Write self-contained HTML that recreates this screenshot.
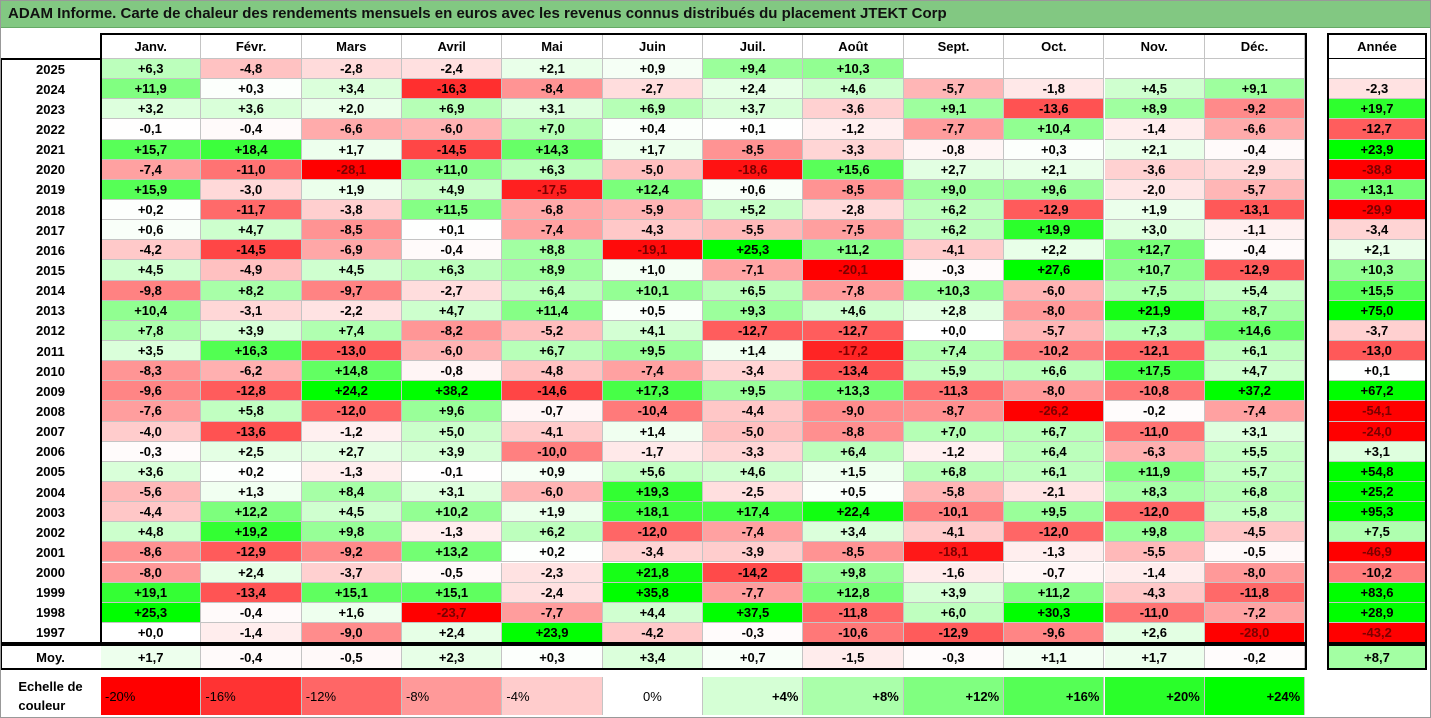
<!DOCTYPE html>
<html><head><meta charset="utf-8"><style>
body{margin:0;width:1431px;height:718px;background:#fff;position:relative;overflow:hidden;font-family:"Liberation Sans",sans-serif;}
.c{position:absolute;box-sizing:border-box;font-weight:bold;font-size:13px;display:flex;align-items:center;justify-content:center;color:#000;}
#title{position:absolute;left:0;top:0;width:1431px;height:28px;background:#82c882;font-weight:bold;font-size:15px;line-height:28px;padding-left:8px;box-sizing:border-box;color:#111;border-bottom:1px solid #6a6;}
</style></head><body>
<div id="title">ADAM Informe. Carte de chaleur des rendements mensuels en euros avec les revenus connus distribués du placement JTEKT Corp</div>
<div id="grid"></div>
<script>
const months=["Janv.","Févr.","Mars","Avril","Mai","Juin","Juil.","Août","Sept.","Oct.","Nov.","Déc."];
const years=[2025,2024,2023,2022,2021,2020,2019,2018,2017,2016,2015,2014,2013,2012,2011,2010,2009,2008,2007,2006,2005,2004,2003,2002,2001,2000,1999,1998,1997];
const values=[
[6.3,-4.8,-2.8,-2.4,2.1,0.9,9.4,10.3,null,null,null,null],
[11.9,0.3,3.4,-16.3,-8.4,-2.7,2.4,4.6,-5.7,-1.8,4.5,9.1],
[3.2,3.6,2.0,6.9,3.1,6.9,3.7,-3.6,9.1,-13.6,8.9,-9.2],
[-0.1,-0.4,-6.6,-6.0,7.0,0.4,0.1,-1.2,-7.7,10.4,-1.4,-6.6],
[15.7,18.4,1.7,-14.5,14.3,1.7,-8.5,-3.3,-0.8,0.3,2.1,-0.4],
[-7.4,-11.0,-28.1,11.0,6.3,-5.0,-18.6,15.6,2.7,2.1,-3.6,-2.9],
[15.9,-3.0,1.9,4.9,-17.5,12.4,0.6,-8.5,9.0,9.6,-2.0,-5.7],
[0.2,-11.7,-3.8,11.5,-6.8,-5.9,5.2,-2.8,6.2,-12.9,1.9,-13.1],
[0.6,4.7,-8.5,0.1,-7.4,-4.3,-5.5,-7.5,6.2,19.9,3.0,-1.1],
[-4.2,-14.5,-6.9,-0.4,8.8,-19.1,25.3,11.2,-4.1,2.2,12.7,-0.4],
[4.5,-4.9,4.5,6.3,8.9,1.0,-7.1,-20.1,-0.3,27.6,10.7,-12.9],
[-9.8,8.2,-9.7,-2.7,6.4,10.1,6.5,-7.8,10.3,-6.0,7.5,5.4],
[10.4,-3.1,-2.2,4.7,11.4,0.5,9.3,4.6,2.8,-8.0,21.9,8.7],
[7.8,3.9,7.4,-8.2,-5.2,4.1,-12.7,-12.7,0.0,-5.7,7.3,14.6],
[3.5,16.3,-13.0,-6.0,6.7,9.5,1.4,-17.2,7.4,-10.2,-12.1,6.1],
[-8.3,-6.2,14.8,-0.8,-4.8,-7.4,-3.4,-13.4,5.9,6.6,17.5,4.7],
[-9.6,-12.8,24.2,38.2,-14.6,17.3,9.5,13.3,-11.3,-8.0,-10.8,37.2],
[-7.6,5.8,-12.0,9.6,-0.7,-10.4,-4.4,-9.0,-8.7,-26.2,-0.2,-7.4],
[-4.0,-13.6,-1.2,5.0,-4.1,1.4,-5.0,-8.8,7.0,6.7,-11.0,3.1],
[-0.3,2.5,2.7,3.9,-10.0,-1.7,-3.3,6.4,-1.2,6.4,-6.3,5.5],
[3.6,0.2,-1.3,-0.1,0.9,5.6,4.6,1.5,6.8,6.1,11.9,5.7],
[-5.6,1.3,8.4,3.1,-6.0,19.3,-2.5,0.5,-5.8,-2.1,8.3,6.8],
[-4.4,12.2,4.5,10.2,1.9,18.1,17.4,22.4,-10.1,9.5,-12.0,5.8],
[4.8,19.2,9.8,-1.3,6.2,-12.0,-7.4,3.4,-4.1,-12.0,9.8,-4.5],
[-8.6,-12.9,-9.2,13.2,0.2,-3.4,-3.9,-8.5,-18.1,-1.3,-5.5,-0.5],
[-8.0,2.4,-3.7,-0.5,-2.3,21.8,-14.2,9.8,-1.6,-0.7,-1.4,-8.0],
[19.1,-13.4,15.1,15.1,-2.4,35.8,-7.7,12.8,3.9,11.2,-4.3,-11.8],
[25.3,-0.4,1.6,-23.7,-7.7,4.4,37.5,-11.8,6.0,30.3,-11.0,-7.2],
[0.0,-1.4,-9.0,2.4,23.9,-4.2,-0.3,-10.6,-12.9,-9.6,2.6,-28.0]];
const annual=[null,-2.3,19.7,-12.7,23.9,-38.8,13.1,-29.9,-3.4,2.1,10.3,15.5,75.0,-3.7,-13.0,0.1,67.2,-54.1,-24.0,3.1,54.8,25.2,95.3,7.5,-46.9,-10.2,83.6,28.9,-43.2];
const averages=[1.7,-0.4,-0.5,2.3,0.3,3.4,0.7,-1.5,-0.3,1.1,1.7,-0.2];
const avgAnnual=8.7;
const scaleTicks=[-20,-16,-12,-8,-4,0,4,8,12,16,20,24];

const X0=101,CW=100.35,Y0=59,RH=20.14,YX=1328,YW=98;
const colX=i=>X0+i*CW;
const rowY=r=>Y0+r*RH;
function color(v){
  if(v===null)return '#fff';
  if(v>=0){const t=Math.min(v/24,1);const c=Math.round(255*(1-t));return `rgb(${c},255,${c})`;}
  const t=Math.min(-v/20,1);const c=Math.round(255*(1-t));return `rgb(255,${c},${c})`;
}
function fmt(v){if(v===null)return '';return (v>=0?'+':'-')+Math.abs(v).toFixed(1).replace('.',',');}
const g=document.getElementById('grid');
function cell(x,y,w,h,txt,bg,name,extra){
  const d=document.createElement('div');d.className='c';
  d.style.cssText=`left:${x}px;top:${y}px;width:${w}px;height:${h}px;background:${bg};`+(extra||'');
  d.textContent=txt;
  
  
  g.appendChild(d);return d;
}
const GB='border-right:1px solid #c4c4c4;border-bottom:1px solid #c4c4c4;';
// header
months.forEach((m,i)=>{cell(colX(i),34,CW,25,m,'#fff','month-header',GB);});
cell(YX,34,YW,25,'Année','#fff','year-header','border-bottom:1px solid #000;');
// rows
years.forEach((y,r)=>{
  cell(0,rowY(r),X0,RH,String(y),'#fff','year-label');
  values[r].forEach((v,i)=>{
    const d=cell(colX(i),rowY(r),CW,RH,fmt(v),color(v),'heat-cell',GB);
    if(v!==null&&v<=-17)d.style.color='#7a0000';
  });
  const a=annual[r];
  const d=cell(YX,rowY(r),YW,RH,fmt(a),color(a),'annual-cell','border-bottom:1px solid #c4c4c4;');
  if(a!==null&&a<=-17)d.style.color='#7a0000';
});
const MY=646,MH=23;
cell(0,MY,X0,MH,'Moy.','#fff','average-label');
averages.forEach((v,i)=>cell(colX(i),MY,CW,MH,fmt(v),color(v),'average-cell','border-right:1px solid #c4c4c4;'));
cell(YX,MY,YW,MH,fmt(avgAnnual),color(avgAnnual),'average-annual-cell');
// borders
function box(x,y,w,h,b,name){const d=document.createElement('div');d.style.cssText=`position:absolute;left:${x}px;top:${y}px;width:${w}px;height:${h}px;border:${b};box-sizing:border-box;pointer-events:none;`;g.appendChild(d);}
box(X0-1,33,12*CW+3,rowY(29)-33+1,'2px solid #000','month-frame');
box(0,58,X0+1,rowY(29)-58+1,'2px solid #000','label-frame');
box(0,MY-2,X0+12*CW+2,MH+3,'2px solid #000','average-frame');
box(YX-1,33,YW+2,rowY(29)-33+1,'2px solid #000','year-frame');
box(YX-1,MY-2,YW+2,MH+3,'2px solid #000','average-year-frame');
// scale
const d0=cell(0,677,X0,38,'','#fff','scale-label','flex-direction:column;line-height:19px;');
d0.innerHTML='Echelle de<br>couleur';
scaleTicks.forEach((v,i)=>{
  const txt=(v>0?'+':'')+v+'%';
  const just=v<0?'flex-start':(v===0?'center':'flex-end');
  const d=cell(colX(i),677,CW,38,txt,color(v),'scale-cell','border-right:1px solid #c4c4c4;justify-content:'+just+';padding:0 4px;');
  if(v<=0)d.style.fontWeight='normal';
});
box(0,0,1431,718,'1px solid #999','outer-frame');
</script>
</body></html>
